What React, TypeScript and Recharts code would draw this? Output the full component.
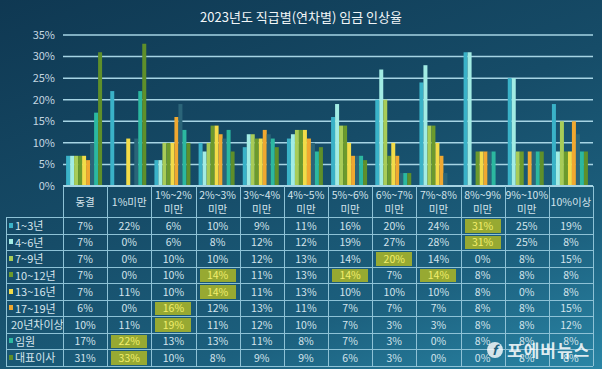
import React from "react"
import { BarChart, Bar, XAxis, YAxis, CartesianGrid } from "recharts"

// categories (salary increase ranges)
const categories = [
  "동결", "1%미만", "1%~2%\n미만", "2%~3%\n미만", "3%~4%\n미만", "4%~5%\n미만",
  "5%~6%\n미만", "6%~7%\n미만", "7%~8%\n미만", "8%~9%\n미만", "9%~10%\n미만", "10%이상",
]

const seriesNames = ["1~3년", "4~6년", "7~9년", "10~12년", "13~16년", "17~19년", "20년차이상", "임원", "대표이사"]
const seriesColors = ["#3ab2c8", "#a2ece4", "#a8cc58", "#6c9a2c", "#f2dc48", "#f0a830", "#2b6579", "#2cb8a0", "#5f8f2a"]

const v1to3 = [7, 22, 6, 10, 9, 11, 16, 20, 24, 31, 25, 19]
const v4to6 = [7, 0, 6, 8, 12, 12, 19, 27, 28, 31, 25, 8]
const v7to9 = [7, 0, 10, 10, 12, 13, 14, 20, 14, 0, 8, 15]
const v10to12 = [7, 0, 10, 14, 11, 13, 14, 7, 14, 8, 8, 8]
const v13to16 = [7, 11, 10, 14, 11, 13, 10, 10, 10, 8, 0, 8]
const v17to19 = [6, 0, 16, 12, 13, 11, 7, 7, 7, 8, 8, 15]
const v20plus = [10, 11, 19, 11, 12, 10, 7, 3, 3, 8, 8, 12]
const vExec = [17, 22, 13, 13, 11, 8, 7, 3, 0, 8, 8, 8]
const vCeo = [31, 33, 10, 8, 9, 9, 6, 3, 0, 0, 8, 8]

const seriesValues = [v1to3, v4to6, v7to9, v10to12, v13to16, v17to19, v20plus, vExec, vCeo]

// highlighted cells: [row, column]
const highlights = [[0, 9], [1, 9], [2, 7], [3, 3], [3, 6], [3, 8], [4, 3], [5, 2], [6, 2], [7, 1], [8, 1]]

const yTicks = [0, 5, 10, 15, 20, 25, 30, 35]

const data = categories.map((c, i) => {
  const row: Record<string, string | number> = { name: c }
  seriesNames.forEach((s, k) => (row[s] = seriesValues[k][i]))
  return row
})

const FONT = '"Noto Sans CJK KR", "Noto Sans", sans-serif'
const PLOT_LEFT = 63
const PLOT_RIGHT = 593
const COL_W = (PLOT_RIGHT - PLOT_LEFT) / categories.length
const HEAD_TOP = 186
const HEAD_BOTTOM = 217
const ROW_H = 16.5
const LABEL_LEFT = 6
const LINE = "#8ec2d6"

const isHi = (r: number, c: number) => highlights.some(([hr, hc]) => hr === r && hc === c)

const App: React.FC = () => {
  const tableBottom = HEAD_BOTTOM + ROW_H * seriesNames.length
  return (
    <div
      style={{
        position: "absolute",
        left: 0,
        top: 0,
        width: 602,
        height: 369,
        overflow: "hidden",
        fontFamily: FONT,
        background: "linear-gradient(160deg, #0f3852 0%, #164c68 45%, #1c607e 75%, #2a86a6 100%)",
      }}
    >
      <div style={{ position: "absolute", top: 7, width: 602, textAlign: "center", color: "#f2f6f8", fontSize: 13 }}>
        2023년도 직급별(연차별) 임금 인상율
      </div>

      <div style={{ position: "absolute", left: 0, top: 0 }}>
        <BarChart
          width={602}
          height={200}
          data={data}
          margin={{ top: 35, right: 602 - PLOT_RIGHT, bottom: 14, left: 0 }}
          barCategoryGap="7%"
          barGap={0}
        >
          <CartesianGrid vertical={false} stroke="#a6d4e4" strokeWidth={1.5} />
          <XAxis dataKey="name" hide />
          <YAxis
            width={PLOT_LEFT}
            domain={[0, 35]}
            ticks={yTicks}
            interval={0}
            axisLine={false}
            tickLine={false}
            tickMargin={2}
            tick={{ fill: "#c4d6e0", fontSize: 11, fontFamily: FONT }}
            tickFormatter={(v) => `${v}%`}
          />
          {seriesNames.map((s, k) => (
            <Bar key={s} dataKey={s} fill={seriesColors[k]} isAnimationActive={false} />
          ))}
        </BarChart>
      </div>

      {/* table header */}
      {categories.map((c, i) => (
        <div
          key={c}
          style={{
            position: "absolute",
            left: PLOT_LEFT + i * COL_W,
            top: HEAD_TOP,
            width: COL_W,
            height: HEAD_BOTTOM - HEAD_TOP,
            display: "flex",
            alignItems: "center",
            justifyContent: "center",
            textAlign: "center",
            whiteSpace: "pre",
            color: "#d4e4ec",
            fontSize: 10.5,
            lineHeight: "14px",
          }}
        >
          {c}
        </div>
      ))}

      {/* row labels */}
      {seriesNames.map((s, r) => (
        <div
          key={s}
          style={{
            position: "absolute",
            left: LABEL_LEFT,
            top: HEAD_BOTTOM + r * ROW_H,
            width: PLOT_LEFT - LABEL_LEFT,
            height: ROW_H,
            display: "flex",
            alignItems: "center",
            color: "#d4e4ec",
            fontSize: 11,
            whiteSpace: "nowrap",
          }}
        >
          <span style={{ display: "inline-block", width: 4, height: 5, background: seriesColors[r], marginLeft: 3, marginRight: 2 }} />
          {s}
        </div>
      ))}

      {/* cells */}
      {seriesValues.map((vals, r) =>
        vals.map((v, c) => (
          <div
            key={`${r}-${c}`}
            style={{
              position: "absolute",
              left: PLOT_LEFT + c * COL_W,
              top: HEAD_BOTTOM + r * ROW_H,
              width: COL_W,
              height: ROW_H,
              display: "flex",
              alignItems: "center",
              justifyContent: "center",
              fontSize: 10.5,
              color: isHi(r, c) ? "#f2ee6c" : "#d4e4ec",
            }}
          >
            {isHi(r, c) && (
              <div style={{ position: "absolute", left: 4, right: 4, top: 2, bottom: 1, background: "#97a932" }} />
            )}
            <span style={{ position: "relative" }}>{v}%</span>
          </div>
        ))
      )}

      {/* table rules */}
      <div style={{ position: "absolute", left: PLOT_LEFT, top: HEAD_TOP - 1, width: PLOT_RIGHT - PLOT_LEFT, height: 2, background: "#a6d4e4" }} />
      {Array.from({ length: seriesNames.length + 1 }).map((_, r) => (
        <div
          key={`h${r}`}
          style={{
            position: "absolute",
            left: LABEL_LEFT,
            top: HEAD_BOTTOM + r * ROW_H,
            width: PLOT_RIGHT - LABEL_LEFT,
            height: 1,
            background: LINE,
          }}
        />
      ))}
      {Array.from({ length: categories.length + 2 }).map((_, i) => {
        const x = i === 0 ? LABEL_LEFT : PLOT_LEFT + (i - 1) * COL_W
        const top = i === 0 ? HEAD_BOTTOM : HEAD_TOP
        return (
          <div
            key={`v${i}`}
            style={{ position: "absolute", left: x, top, width: 1, height: tableBottom - top, background: LINE }}
          />
        )
      })}

      {/* watermark */}
      <div
        style={{
          position: "absolute",
          left: 487,
          top: 337,
          display: "flex",
          alignItems: "center",
          color: "rgba(255,255,255,0.85)",
          fontSize: 17,
          fontWeight: 700,
          letterSpacing: 1,
        }}
      >
        <span
          style={{
            display: "inline-flex",
            width: 16,
            height: 16,
            borderRadius: 8,
            background: "rgba(255,255,255,0.8)",
            color: "#1c5f7e",
            fontSize: 13,
            fontStyle: "italic",
            alignItems: "center",
            justifyContent: "center",
            marginRight: 4,
          }}
        >
          f
        </span>
        포에버뉴스
      </div>
    </div>
  )
}

export default App
